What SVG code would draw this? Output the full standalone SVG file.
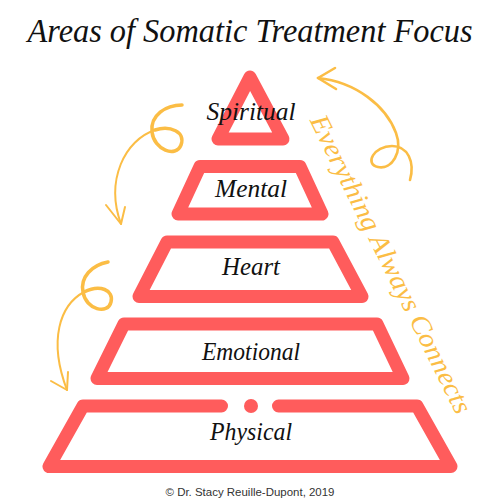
<svg xmlns="http://www.w3.org/2000/svg" width="500" height="500" viewBox="0 0 500 500">
<style>
.tier{fill:none;stroke:#FF5C5C;stroke-width:13;stroke-linejoin:round;stroke-linecap:round}
.lbl{font-family:"Liberation Serif","DejaVu Serif",serif;font-style:italic;font-size:25px;fill:#111;text-anchor:middle}
.arr{fill:none;stroke:#FBBD45;stroke-linecap:round;stroke-linejoin:round}
</style>
<rect width="500" height="500" fill="#fff"/>
<text x="250" y="42" font-family="Liberation Serif, DejaVu Serif, serif" font-style="italic" font-size="34" fill="#111" text-anchor="middle" textLength="445" lengthAdjust="spacingAndGlyphs">Areas of Somatic Treatment Focus</text>
<g id="connectors">
<path class="arr" stroke-width="2.6" d="M410 180 C415 162,408 146,392 146 C374 146,364 164,378 167 C392 170,403 152,396 133 C386 106,356 82,318 78"/>
<path class="arr" stroke-width="2.6" d="M335 68 L318 78 L336 89"/>
<path class="arr" stroke-width="3.5" d="M182 105 C166 105,150 115,152 132 C154 150,176 158,181 145 C186 132,170 125,155 130"/>
<path class="arr" stroke-width="2" d="M155 130 C125 140,105 180,121 224"/>
<path class="arr" stroke-width="2" d="M106 205 L121 224 L125 207"/>
<path class="arr" stroke-width="3.5" d="M108 262 C92 265,80 277,83 292 C86 310,108 315,111 302 C114 290,100 284,84 292"/>
<path class="arr" stroke-width="2" d="M84 292 C60 305,48 340,67 390"/>
<path class="arr" stroke-width="2" d="M51 381 L67 390 L68 372"/>
</g>
<g id="spiritual">
<path class="tier" d="M250 77 L283 139 L218 139 Z"/>
<text class="lbl" x="251" y="120" textLength="89" lengthAdjust="spacingAndGlyphs">Spiritual</text>
</g>
<g id="mental">
<path class="tier" d="M200 166.5 L300 166.5 L322 214 L178 214 Z"/>
<text class="lbl" x="251" y="197" textLength="72" lengthAdjust="spacingAndGlyphs">Mental</text>
</g>
<g id="heart">
<path class="tier" d="M167 242 L333 242 L362 296.5 L139 296.5 Z"/>
<text class="lbl" x="251" y="275" textLength="58" lengthAdjust="spacingAndGlyphs">Heart</text>
</g>
<g id="emotional">
<path class="tier" d="M124 324 L377 324 L403 378.5 L97 378.5 Z"/>
<text class="lbl" x="251" y="360" textLength="98" lengthAdjust="spacingAndGlyphs">Emotional</text>
</g>
<g id="physical">
<path class="tier" d="M221.5 406 L83 406 L49 466.5 L451 466.5 L417 406 L278.5 406"/>
<circle cx="251" cy="406" r="7" fill="#FF5C5C"/>
<text class="lbl" x="251" y="440" textLength="82" lengthAdjust="spacingAndGlyphs">Physical</text>
</g>
<text transform="translate(383 268) rotate(63.5)" font-family="Liberation Serif, DejaVu Serif, serif" font-style="italic" font-size="27" fill="#FBBD45" text-anchor="middle" textLength="330" lengthAdjust="spacingAndGlyphs">Everything Always Connects</text>
<text x="250" y="496" font-family="Liberation Sans, Arial, sans-serif" font-size="11" fill="#333" text-anchor="middle" textLength="169" lengthAdjust="spacingAndGlyphs">© Dr. Stacy Reuille-Dupont, 2019</text>
</svg>
